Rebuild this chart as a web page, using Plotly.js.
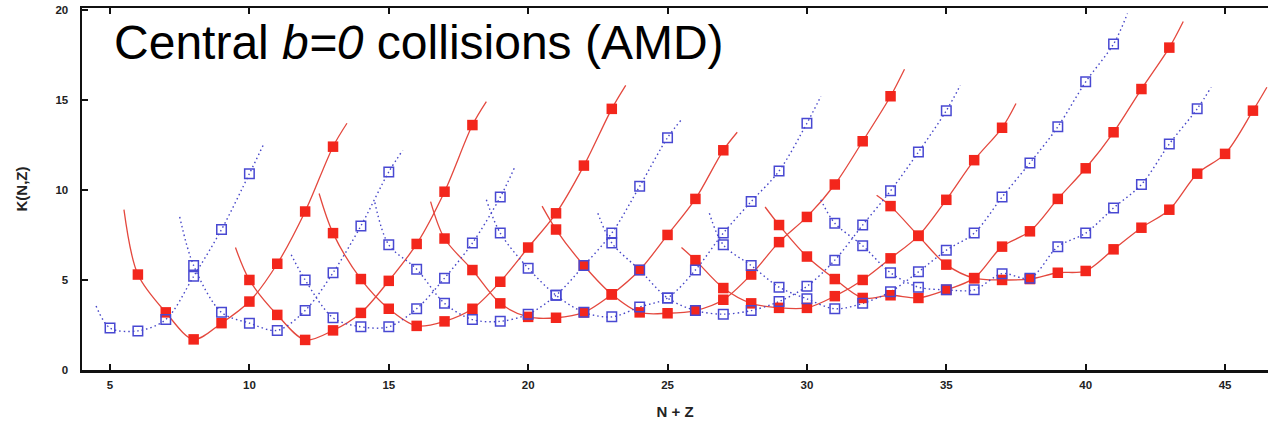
<!DOCTYPE html>
<html>
<head>
<meta charset="utf-8">
<script src="https://cdn.plot.ly/plotly-3.0.1.min.js"></script>
<style>
  html, body { margin: 0; padding: 0; background: #ffffff; }
  #chart { width: 1268px; height: 425px; }
</style>
</head>
<body>
<div id="chart"></div>
<script>
// ---- Data ----
// Each chain: first N+Z value with a point, K values at consecutive N+Z,
// and the y value of the drawn fit curve half a unit before / after the points.

// Red (solid line, filled squares) chains
const redFirst = [6, 10, 13, 17, 21, 26, 29, 33];
const red1 = [5.3, 3.2, 1.7, 2.6, 3.8, 5.9, 8.8, 12.4];
const red2 = [5.0, 3.06, 1.67, 2.2, 3.17, 4.95, 7.0, 9.9, 13.6];
const red3 = [7.6, 5.05, 3.4, 2.45, 2.7, 3.4, 4.9, 6.8, 8.7, 11.35, 14.5];
const red4 = [7.3, 5.55, 3.7, 2.95, 2.9, 3.2, 4.2, 5.55, 7.5, 9.5, 12.2];
const red5 = [7.8, 5.8, 4.2, 3.2, 3.15, 3.3, 3.9, 5.3, 7.1, 8.5, 10.3, 12.7, 15.2];
const red6 = [6.1, 4.55, 3.7, 3.45, 3.45, 4.1, 5.0, 6.2, 7.45, 9.45, 11.65, 13.45];
const red7 = [8.05, 6.3, 5.05, 4.0, 4.15, 4.0, 4.45, 5.1, 6.85, 7.7, 9.5, 11.2, 13.2, 15.6, 17.9];
const red8 = [9.1, 7.45, 5.85, 5.1, 5.0, 5.05, 5.4, 5.5, 6.7, 7.9, 8.9, 10.9, 12.0, 14.4];
const redCurveStart = [8.9, 6.8, 9.8, 9.35, 9.1, 6.8, 9.05, 9.7];
const redCurveEnd = [13.7, 14.9, 15.8, 13.2, 16.7, 14.8, 19.35, 15.7];

// Blue (dotted line, open squares) chains
const blueFirst = [5, 8, 12, 15, 19, 23, 27, 31];
const blue1 = [2.33, 2.17, 2.8, 5.2, 7.8, 10.9];
const blue2 = [5.8, 3.2, 2.6, 2.2, 3.3, 5.4, 8.0, 11.0];
const blue3 = [5.0, 2.9, 2.4, 2.4, 3.4, 5.1, 7.05, 9.6];
const blue4 = [6.95, 5.6, 3.7, 2.8, 2.7, 3.1, 4.15, 5.8, 7.6, 10.2, 12.9];
const blue5 = [7.6, 5.65, 4.15, 3.2, 2.95, 3.5, 4.0, 5.55, 7.6, 9.35, 11.05, 13.7];
const blue6 = [7.05, 5.55, 4.0, 3.3, 3.1, 3.3, 3.8, 4.65, 6.1, 8.05, 9.95, 12.1, 14.4];
const blue7 = [6.95, 5.8, 4.6, 3.95, 3.4, 3.7, 4.35, 5.45, 6.65, 7.6, 9.6, 11.5, 13.5, 16.0, 18.1];
const blue8 = [8.15, 6.9, 5.4, 4.6, 4.45, 4.45, 5.35, 5.1, 6.85, 7.6, 9.0, 10.3, 12.55, 14.5];
const blueCurveStart = [3.55, 8.5, 6.4, 9.3, 9.45, 8.7, 8.7, 9.45];
const blueCurveEnd = [12.5, 12.2, 11.2, 13.9, 15.2, 15.8, 19.8, 15.7];

const xTicks = [5, 10, 15, 20, 25, 30, 35, 40, 45];
const yTicks = [0, 5, 10, 15, 20];

// ---- Styles ----
const RED = 'rgb(243,38,28)';
const RED_LINE = 'rgb(228,72,62)';
const BLUE = 'rgb(72,72,210)';
const BLUE_LINE = 'rgb(70,70,200)';

function chainTraces(first, vals, yStart, yEnd, kind) {
  const xs = vals.map((_, i) => first + i);
  const lx = [first - 0.5].concat(xs, [first + vals.length - 0.5]);
  const ly = [yStart].concat(vals, [yEnd]);
  const isRed = kind === 'red';
  const line = {
    x: lx, y: ly, type: 'scatter', mode: 'lines', hoverinfo: 'skip',
    line: isRed ? {color: RED_LINE, width: 1.3, shape: 'spline', smoothing: 0.9}
                : {color: BLUE_LINE, width: 1.4, dash: '1.5px,3px', shape: 'spline', smoothing: 0.9},
    showlegend: false
  };
  const marks = {
    x: xs, y: vals, type: 'scatter', mode: 'markers',
    marker: isRed ? {symbol: 'square', size: 10.5, color: RED, line: {width: 0}}
                  : {symbol: 'square-open', size: 9.5, color: BLUE, line: {width: 1.5, color: BLUE}},
    showlegend: false, cliponaxis: false
  };
  return [line, marks];
}

const reds = [red1, red2, red3, red4, red5, red6, red7, red8];
const blues = [blue1, blue2, blue3, blue4, blue5, blue6, blue7, blue8];
let lineTraces = [], redMarks = [], blueMarks = [];
reds.forEach((v, i) => {
  const t = chainTraces(redFirst[i], v, redCurveStart[i], redCurveEnd[i], 'red');
  lineTraces.push(t[0]); redMarks.push(t[1]);
});
blues.forEach((v, i) => {
  const t = chainTraces(blueFirst[i], v, blueCurveStart[i], blueCurveEnd[i], 'blue');
  lineTraces.push(t[0]); blueMarks.push(t[1]);
});
const data = lineTraces.concat(redMarks, blueMarks);

const tickFont = {family: 'Liberation Sans, Arial, sans-serif', size: 11.5, color: '#222', weight: 'bold'};
const titleFont = {family: 'Liberation Sans, Arial, sans-serif', size: 15, color: '#222', weight: 'bold'};

const layout = {
  width: 1268, height: 425,
  margin: {l: 82, r: 0, t: 8, b: 55},
  paper_bgcolor: '#ffffff', plot_bgcolor: '#ffffff',
  showlegend: false,
  title: {
    text: 'Central <i>b=0</i> collisions (AMD)',
    font: {family: 'Liberation Sans, Arial, sans-serif', size: 48, color: '#000'},
    xref: 'paper', yref: 'paper', x: 0.027, xanchor: 'left', y: 0.905, yanchor: 'middle'
  },
  xaxis: {
    range: [3.995, 46.54], tickvals: xTicks, ticktext: xTicks.map(String),
    ticks: 'inside', ticklen: 6, tickwidth: 2, tickcolor: '#111',
    showline: true, linecolor: '#111', linewidth: 2.5, mirror: 'ticks',
    showgrid: false, zeroline: false, tickfont: tickFont, ticklabelstandoff: 3,
    title: {text: 'N + Z', font: titleFont, standoff: 16}
  },
  yaxis: {
    range: [0, 20.1], tickvals: yTicks, ticktext: yTicks.map(String),
    ticks: 'inside', ticklen: 6, tickwidth: 2, tickcolor: '#111',
    showline: true, linecolor: '#111', linewidth: 2.5, mirror: false,
    showgrid: false, zeroline: false, tickfont: tickFont, ticklabelstandoff: 9,
    title: {text: 'K(N,Z)', font: titleFont, standoff: 24}
  }
};

Plotly.newPlot('chart', data, layout, {displayModeBar: false, staticPlot: true});
</script>
</body>
</html>
